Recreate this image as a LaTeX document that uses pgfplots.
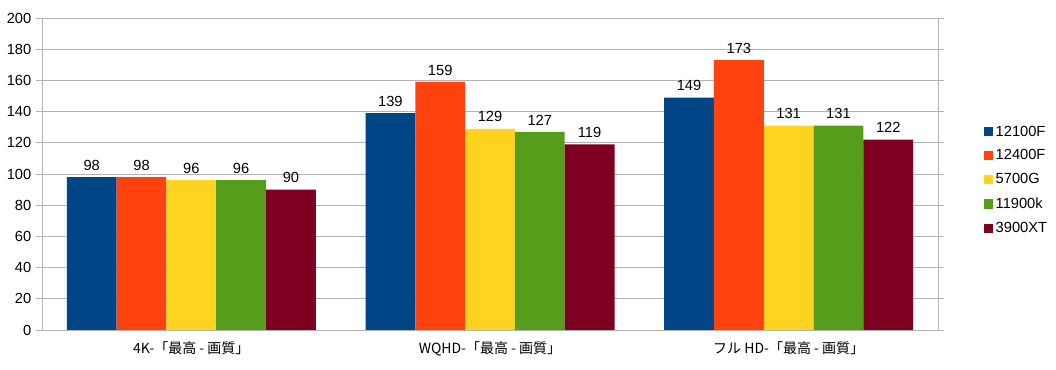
\documentclass[border=0pt]{standalone}
\usepackage{pgfplots}
\pgfplotsset{compat=1.18}
\usepackage{fontspec}
\setmainfont{Liberation Sans}
\newfontfamily\cjk{Noto Sans CJK JP}
\definecolor{c1}{HTML}{004586}
\definecolor{c2}{HTML}{FF420E}
\definecolor{c3}{HTML}{FFD320}
\definecolor{c4}{HTML}{579D1C}
\definecolor{c5}{HTML}{7E0021}
\definecolor{gridc}{HTML}{B3B3B3}
\begin{document}
\begin{tikzpicture}
\path[use as bounding box] (0pt,0pt) rectangle (792pt,277.5pt);
\begin{axis}[
  at={(31.5pt,30pt)}, anchor=south west,
  scale only axis, width=672pt, height=234pt,
  ybar=0pt, bar width=37.35pt,
  xmin=-0.5, xmax=2.5, ymin=0, ymax=200,
  ytick={0,20,...,200},
  xtick={0,1,2},
  xticklabels={4K-{\cjk 「最高 - 画質」}, WQHD-{\cjk 「最高 - 画質」}, フル HD-{\cjk 「最高 - 画質」}},
  xticklabel style={font=\fontsize{10.5}{12}\selectfont\cjk, yshift=-1pt},
  extra x ticks={-0.5,0.5,1.5,2.5},
  extra x tick labels={},
  extra x tick style={major tick length=5pt, tick style={draw=gridc}, tick align=outside, grid=none},
  major x tick style={draw=none},
  ymajorgrids, grid style={draw=gridc, line width=0.6pt},
  axis line style={draw=gridc, line width=0.6pt},
  y tick style={draw=gridc, line width=0.6pt},
  tick align=outside, major tick length=4.5pt,
  ticklabel style={font=\fontsize{11}{13}\selectfont},
  /pgf/number format/assume math mode=true,
  nodes near coords,
  nodes near coords style={font=\fontsize{11}{13}\selectfont, black, yshift=1.5pt},
  legend style={at={(1.051,0.664)}, anchor=north west, draw=none, fill=none,
    font=\fontsize{11}{13}\selectfont, row sep=4.8pt, inner sep=0pt},
  legend cell align=left,
  legend image code/.code={\fill[#1] (0pt,-3.4pt) rectangle (6.8pt,3.4pt);},
  clip=false,
]
\addplot[fill=c1, draw=none] coordinates {(0,98) (1,139) (2,149)};
\addplot[fill=c2, draw=none] coordinates {(0,98) (1,159) (2,173)};
\addplot[fill=c3, draw=none] coordinates {(0,96) (1,129) (2,131)};
\addplot[fill=c4, draw=none] coordinates {(0,96) (1,127) (2,131)};
\addplot[fill=c5, draw=none] coordinates {(0,90) (1,119) (2,122)};
\legend{12100F,12400F,5700G,11900k,3900XT}
\end{axis}
\end{tikzpicture}
\end{document}
